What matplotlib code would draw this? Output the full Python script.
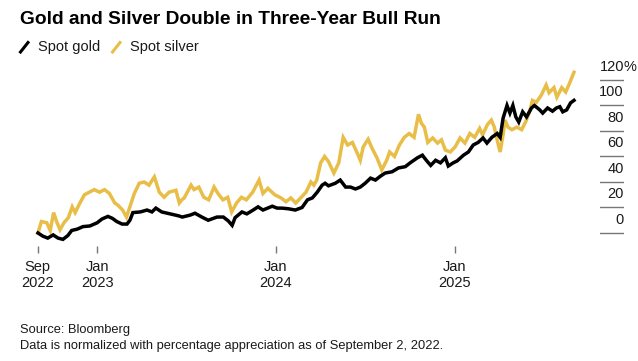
import numpy as np
import matplotlib
matplotlib.use("Agg")
import matplotlib.pyplot as plt
from matplotlib.lines import Line2D

plt.rcParams['font.family'] = ['Liberation Sans', 'DejaVu Sans']

# --- data (percent change since Sep 2, 2022) ---
gold_dates = ["2022-09-02", "2022-09-12", "2022-09-22", "2022-10-03", "2022-10-13", "2022-10-23",
              "2022-11-02", "2022-11-10", "2022-11-21", "2022-12-03", "2022-12-17",
              "2023-01-01", "2023-01-11", "2023-01-23", "2023-02-01", "2023-02-10", "2023-02-21",
              "2023-03-03", "2023-03-09", "2023-03-15", "2023-03-30", "2023-04-13", "2023-04-23",
              "2023-05-01", "2023-05-13", "2023-05-30", "2023-06-16", "2023-06-24", "2023-07-10",
              "2023-07-20", "2023-08-03", "2023-08-16", "2023-09-03", "2023-09-16", "2023-09-26",
              "2023-10-04", "2023-10-10", "2023-10-24", "2023-11-03", "2023-11-16", "2023-11-26",
              "2023-12-06", "2023-12-25",
              "2024-01-04", "2024-01-14", "2024-01-27", "2024-02-10", "2024-02-24", "2024-03-06",
              "2024-03-16", "2024-03-26", "2024-04-05", "2024-04-11", "2024-04-18", "2024-05-02",
              "2024-05-12", "2024-05-23", "2024-06-02", "2024-06-12", "2024-06-22", "2024-07-02",
              "2024-07-13", "2024-07-23", "2024-08-02", "2024-08-12", "2024-08-26", "2024-09-08",
              "2024-09-22", "2024-10-02", "2024-10-17", "2024-10-27", "2024-11-04", "2024-11-13",
              "2024-11-23", "2024-12-03", "2024-12-13", "2024-12-19", "2024-12-29",
              "2025-01-06", "2025-01-19", "2025-01-29", "2025-02-08", "2025-02-18", "2025-02-28",
              "2025-03-08", "2025-03-18", "2025-03-29", "2025-04-04", "2025-04-10", "2025-04-18",
              "2025-04-24", "2025-04-30", "2025-05-06", "2025-05-12", "2025-05-20", "2025-05-28",
              "2025-06-07", "2025-06-13", "2025-06-24", "2025-06-30", "2025-07-10", "2025-07-20",
              "2025-07-28", "2025-08-04", "2025-08-10", "2025-08-18", "2025-08-26", "2025-09-02"]
gold_vals = [0, -2.5, -4, -1.5, -4, -5, -2, 2, 3, 5, 5.5,
             8, 11, 13, 11.5, 9, 7, 7, 10, 16, 16.5,
             18, 16.5, 19.5, 16.5, 15, 13.5, 12.5, 14, 15.5, 12.5,
             10, 12.5, 12.5, 9.5, 6, 12, 16.5, 15, 18, 20.5,
             18, 21,
             19.5, 19.5, 19, 18, 20, 26, 27.5, 32, 37.5, 39,
             37, 39, 41.5, 36, 36, 34.5, 36, 39, 43, 41.5,
             44.5, 47, 48, 51, 52, 55, 59, 61, 57, 53,
             57, 55, 59, 52.5, 55,
             56.5, 61, 63.5, 69, 71, 74.5, 70.5, 75, 78, 75,
             90, 100, 94, 100, 91, 87, 95, 91, 98, 100,
             96.5, 94, 98, 95.5, 98, 99, 95, 96.5, 102, 104]

silver_dates = ["2022-09-02", "2022-09-09", "2022-09-20", "2022-09-27", "2022-10-04", "2022-10-10",
                "2022-10-17", "2022-10-25", "2022-11-03", "2022-11-11", "2022-11-17", "2022-11-26",
                "2022-12-06", "2022-12-16", "2022-12-26",
                "2023-01-06", "2023-01-16", "2023-01-26", "2023-02-06", "2023-02-12", "2023-02-22",
                "2023-03-02", "2023-03-08", "2023-03-18", "2023-03-28", "2023-04-07", "2023-04-17",
                "2023-04-28", "2023-05-08", "2023-05-18", "2023-05-28", "2023-06-11", "2023-06-18",
                "2023-06-23", "2023-06-28", "2023-07-12", "2023-07-18", "2023-07-28", "2023-08-07",
                "2023-08-17", "2023-08-28", "2023-09-05", "2023-09-15", "2023-09-25", "2023-10-03",
                "2023-10-13", "2023-10-23", "2023-11-02", "2023-11-15", "2023-11-28", "2023-12-06",
                "2023-12-16", "2023-12-30",
                "2024-01-12", "2024-01-22", "2024-02-01", "2024-02-11", "2024-02-21", "2024-03-03",
                "2024-03-13", "2024-03-19", "2024-03-25", "2024-04-02", "2024-04-10", "2024-04-18",
                "2024-04-29", "2024-05-09", "2024-05-18", "2024-05-27", "2024-06-06", "2024-06-16",
                "2024-06-22", "2024-06-28", "2024-07-08", "2024-07-16", "2024-07-26", "2024-08-05",
                "2024-08-15", "2024-08-21", "2024-08-31", "2024-09-10", "2024-09-20", "2024-09-30",
                "2024-10-10", "2024-10-19", "2024-10-25", "2024-10-31", "2024-11-07", "2024-11-17",
                "2024-11-27", "2024-12-05", "2024-12-13", "2024-12-23",
                "2025-01-02", "2025-01-12", "2025-01-22", "2025-02-01", "2025-02-11", "2025-02-21",
                "2025-02-27", "2025-03-09", "2025-03-17", "2025-03-23", "2025-03-30", "2025-04-04",
                "2025-04-10", "2025-04-14", "2025-04-20", "2025-04-28", "2025-05-08", "2025-05-18",
                "2025-05-26", "2025-06-03", "2025-06-09", "2025-06-17", "2025-06-27", "2025-07-07",
                "2025-07-13", "2025-07-23", "2025-07-29", "2025-08-08", "2025-08-16", "2025-08-24",
                "2025-09-02"]
silver_vals = [0, 9, 8, 2, 16, 9,
               2.5, 8, 12, 20.5, 16, 23,
               30, 32, 34,
               32, 34, 31, 23.5, 22, 18,
               12.5, 19.5, 31, 39, 40, 37.5,
               44, 32, 28, 32, 33.5, 23.5,
               26, 27.5, 37.5, 34, 36, 28,
               26, 36, 31, 26, 28, 16.5,
               23.5, 28, 26, 32, 41.5, 31,
               35, 30,
               27.5, 24.5, 27.5, 23.5, 27.5, 32,
               40, 37.5, 41.5, 55, 60, 56,
               47, 55, 75, 69, 71, 62.5,
               57, 67.5, 73.5, 66.5, 59, 49.5,
               57, 63.5, 60, 69, 75, 78,
               75, 93, 86, 83, 71, 74.5,
               70.5, 73, 65, 63.5,
               67.5, 74.5, 70.5, 78, 75, 82,
               77, 85, 88.5, 83, 71, 63.5,
               77, 88.5, 83, 81, 83, 81,
               87, 95, 104, 102.5, 108, 116,
               110, 114, 106.5, 114, 110.5, 117.5,
               126]

x_ticks = ["2022-09-01", "2023-01-01", "2024-01-01", "2025-01-01"]
x_ticklabels = ["Sep\n2022", "Jan\n2023", "Jan\n2024", "Jan\n2025"]
y_ticks = [0, 20, 40, 60, 80, 100, 120]

GOLD_C = "#000000"
SILVER_C = "#E8BE48"
TEXT_C = "#1a1a1a"

W, H = 638, 361
fig = plt.figure(figsize=(W / 100, H / 100), dpi=100)

# main plot area
bottom, top = 1 - 245.75 / H, 1 - 60.8 / H
ax = fig.add_axes([37.5 / W, bottom, (574 - 37.5) / W, top - bottom])
ax.plot(np.array(silver_dates, dtype="datetime64[D]"), silver_vals,
        color=SILVER_C, lw=2.5, solid_joinstyle="miter", clip_on=False)
ax.plot(np.array(gold_dates, dtype="datetime64[D]"), gold_vals,
        color=GOLD_C, lw=2.5, solid_joinstyle="miter", clip_on=False)
ax.set_xlim(np.datetime64("2022-09-01"), np.datetime64("2025-09-02"))
ax.set_ylim(-10, 135)
ax.set_xticks(np.array(x_ticks, dtype="datetime64[D]"))
ax.set_xticklabels(x_ticklabels, fontsize=10.5, color=TEXT_C, linespacing=1.25)
ax.tick_params(axis="x", length=5, width=1, color="#777777", pad=5)
ax.set_yticks([])
for s in ax.spines.values():
    s.set_visible(False)

# detached value scale on the right
ax2 = fig.add_axes([600 / W, bottom, 24 / W, top - bottom])
ax2.set_ylim(-10, 135)
ax2.set_yticks(y_ticks)
ax2.set_xticks([])
ax2.tick_params(axis="y", length=0, labelleft=False)
ax2.grid(axis="y", color="#777777", lw=1)
for s in ax2.spines.values():
    s.set_visible(False)
for v in y_ticks:
    ax2.annotate(str(v), xy=(1, v), xycoords=ax2.get_yaxis_transform(),
                 xytext=(0, 6.5), textcoords="offset points",
                 ha="right", va="baseline", fontsize=10.5, color=TEXT_C)
ax2.annotate("%", xy=(1, y_ticks[-1]), xycoords=ax2.get_yaxis_transform(),
             xytext=(0, 6.5), textcoords="offset points",
             ha="left", va="baseline", fontsize=10.5, color=TEXT_C)

# title
fig.text(20 / W, 1 - 19.5 / H, "Gold and Silver Double in Three-Year Bull Run",
         fontsize=13.8, fontweight="bold", color="#000000", va="center", ha="left")

# legend
ly = 1 - 47 / H
for x0, col, lab, tx in [(20.5, GOLD_C, "Spot gold", 38), (112.5, SILVER_C, "Spot silver", 130)]:
    fig.add_artist(Line2D([x0 / W, (x0 + 7.5) / W], [1 - 52 / H, 1 - 42.5 / H],
                          color=col, lw=2.2, transform=fig.transFigure))
    fig.text(tx / W, ly, lab, fontsize=10.5, color=TEXT_C, va="center", ha="left")

# footer
fig.text(20 / W, 1 - 330 / H, "Source: Bloomberg", fontsize=9.3, color=TEXT_C, va="center")
fig.text(20 / W, 1 - 346 / H,
         "Data is normalized with percentage appreciation as of September 2, 2022.",
         fontsize=9.3, color=TEXT_C, va="center")

fig.savefig("out.png", dpi=100, facecolor="white")
